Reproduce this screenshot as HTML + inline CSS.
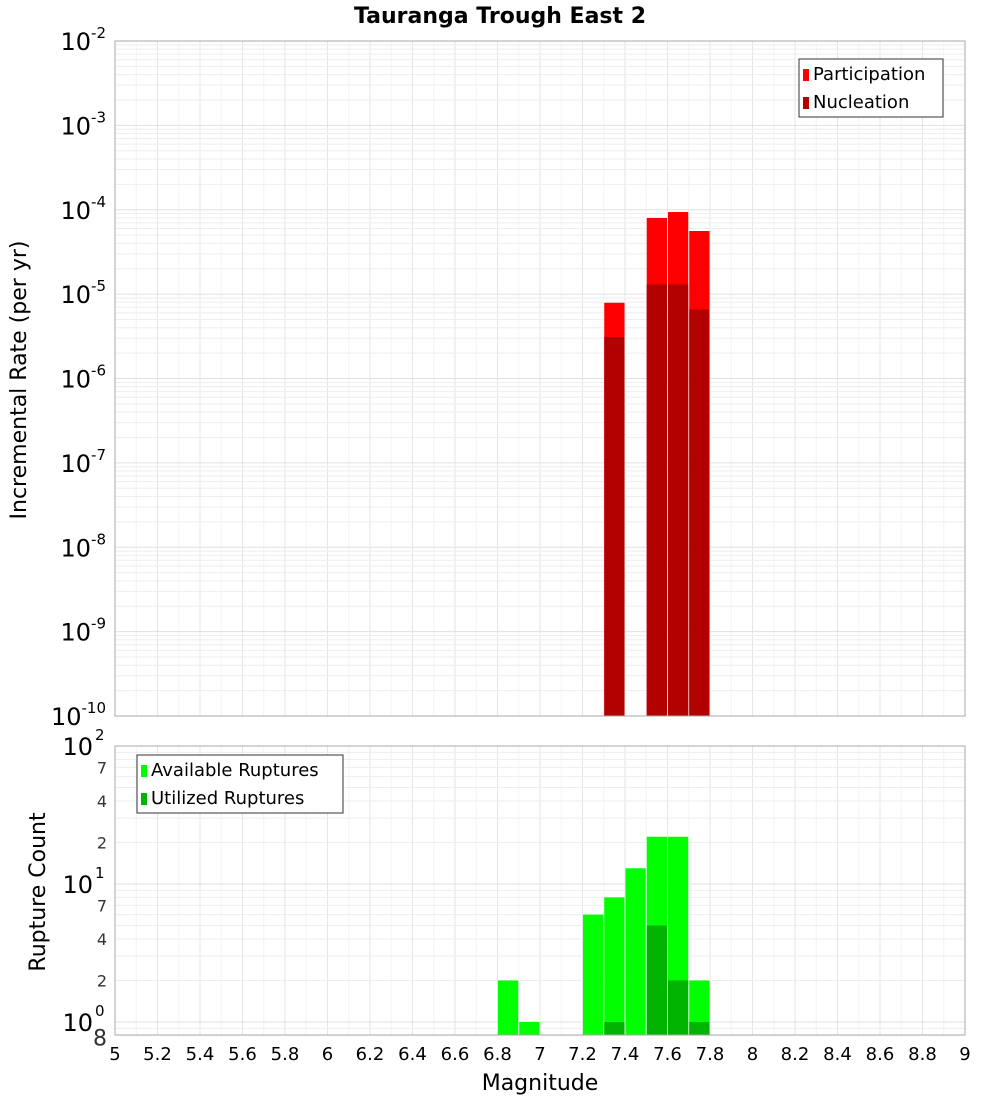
<!DOCTYPE html>
<html><head><meta charset="utf-8"><style>
body{margin:0;background:#fff;}
svg{font-family:"DejaVu Sans","Liberation Sans",sans-serif;}
</style></head><body>
<svg id="c" width="1000" height="1100" xmlns="http://www.w3.org/2000/svg"></svg>
<script>
const bins=[7.35,7.55,7.65,7.75];
const participation=[7.9e-6,8.0e-5,9.4e-5,5.6e-5];
const nucleation=[3.1e-6,1.3e-5,1.3e-5,6.6e-6];
const countBins=[6.85,6.95,7.25,7.35,7.45,7.55,7.65,7.75];
const available=[2,1,6,8,13,22,22,2];
const utilized=[0,0,0,1,0,5,2,1];
const xTicks=["5","5.2","5.4","5.6","5.8","6","6.2","6.4","6.6","6.8","7","7.2","7.4","7.6","7.8","8","8.2","8.4","8.6","8.8","9"];
const topExps=[-2,-3,-4,-5,-6,-7,-8,-9,-10];

const S=document.getElementById('c'),NS='http://www.w3.org/2000/svg';
function el(t,a,p){const e=document.createElementNS(NS,t);for(const k in a)e.setAttribute(k,a[k]);(p||S).appendChild(e);return e;}
const X0=115,X1=965;
const xs=v=>X0+(v-5)/4*(X1-X0);
const T0=41,T1=716;
const ty=v=>T1-(Math.log10(v)+10)/8*(T1-T0);
const B0=746,B1=1035;
const by=v=>1022-Math.log10(v)*138;

// frames background & grids
function grid(top,bot,yf,lo,hi){
  for(let i=0;i<=40;i++){const x=xs(5+i*0.1);el('line',{x1:x,x2:x,y1:top,y2:bot,stroke:i%2?'#f3f3f3':'#e6e6e6','stroke-width':1});}
  for(let d=lo;d<hi;d++)for(let m=1;m<10;m++){const y=yf(m*Math.pow(10,d));if(y<top-0.5||y>bot+0.5)continue;el('line',{x1:X0,x2:X1,y1:y,y2:y,stroke:m==1?'#e0e0e0':'#eeeeee','stroke-width':1});}
}
grid(T0,T1,ty,-10,-2);
grid(B0,B1,by,-1,2);

// top bars
const bw=(X1-X0)/40-1;
bins.forEach((b,i)=>{
  const x=xs(b-0.05)+0.5;
  const r=el('rect',{x:x,y:ty(participation[i]),width:bw,height:T1-ty(participation[i]),fill:'#ff0000'});
  
  const n=el('rect',{x:x,y:ty(nucleation[i]),width:bw,height:T1-ty(nucleation[i]),fill:'#b30000'});
  
});
countBins.forEach((b,i)=>{
  const x=xs(b-0.05)+0.5;
  const r=el('rect',{x:x,y:by(available[i]),width:bw,height:B1-by(available[i]),fill:'#00ff00'});
  
  if(utilized[i]>0){const u=el('rect',{x:x,y:by(utilized[i]),width:bw,height:B1-by(utilized[i]),fill:'#00b300'});
  }
});
el('rect',{x:X0,y:T0,width:X1-X0,height:T1-T0,fill:'none',stroke:'#aaa'});
el('rect',{x:X0,y:B0,width:X1-X0,height:B1-B0,fill:'none',stroke:'#aaa'});

// title
const t=el('text',{x:500,y:23,'text-anchor':'middle','font-size':22,'font-weight':'bold'});t.textContent='Tauranga Trough East 2';


// top y labels
topExps.forEach(e=>{
  const y=ty(Math.pow(10,e));
  const g=el('text',{x:106,y:y+9,'text-anchor':'end','font-size':24});
  
  const a=el('tspan',{},g);a.textContent='10';
  const b=el('tspan',{dy:-12,'font-size':15},g);b.textContent=String(e);
});
// y-label positions adjust: place exponent after
// bottom y labels
[[100,'2'],[10,'1'],[1,'0']].forEach(([v,e])=>{
  const y=by(v);
  const g=el('text',{x:93,y:y+9,'text-anchor':'end','font-size':24});g.textContent='10';
  
  const s=el('text',{x:95,y:y-6,'font-size':15});s.textContent=e;
});
[[70,'7'],[40,'4'],[20,'2'],[7,'7'],[4,'4'],[2,'2'],[0.8,'8']].forEach(([v,l])=>{
  const s=el('text',{x:107,y:by(v)+(l=='8'?10:6),'text-anchor':'end','font-size':l=='8'?22:16,fill:'#333'});s.textContent=l;
  
});
// x ticks
xTicks.forEach(l=>{
  const s=el('text',{x:xs(parseFloat(l)),y:1060,'text-anchor':'middle','font-size':18});s.textContent=l;
  
});
let a=el('text',{x:540,y:1090,'text-anchor':'middle','font-size':22});a.textContent='Magnitude';

a=el('text',{x:0,y:0,'text-anchor':'middle','font-size':22,transform:'translate(26,380) rotate(-90)'});a.textContent='Incremental Rate (per yr)';

a=el('text',{x:0,y:0,'text-anchor':'middle','font-size':22,transform:'translate(45,892) rotate(-90)'});a.textContent='Rupture Count';


// legends
function legend(x,y,w,items,name){
  const g=el('g',{});
  el('rect',{x:x,y:y,width:w,height:58,fill:'#fff',stroke:'#333'},g);
  items.forEach((it,i)=>{
    el('rect',{x:x+4,y:y+10+i*28,width:6,height:12,fill:it[1]},g);
    const s=el('text',{x:x+14,y:y+21+i*28,'font-size':18},g);s.textContent=it[0];
  });
}
legend(799,59,144,[['Participation','#ff0000'],['Nucleation','#b30000']],'top-legend');
legend(137,755,206,[['Available Ruptures','#00ff00'],['Utilized Ruptures','#00b300']],'bottom-legend');
</script>
</body></html>
